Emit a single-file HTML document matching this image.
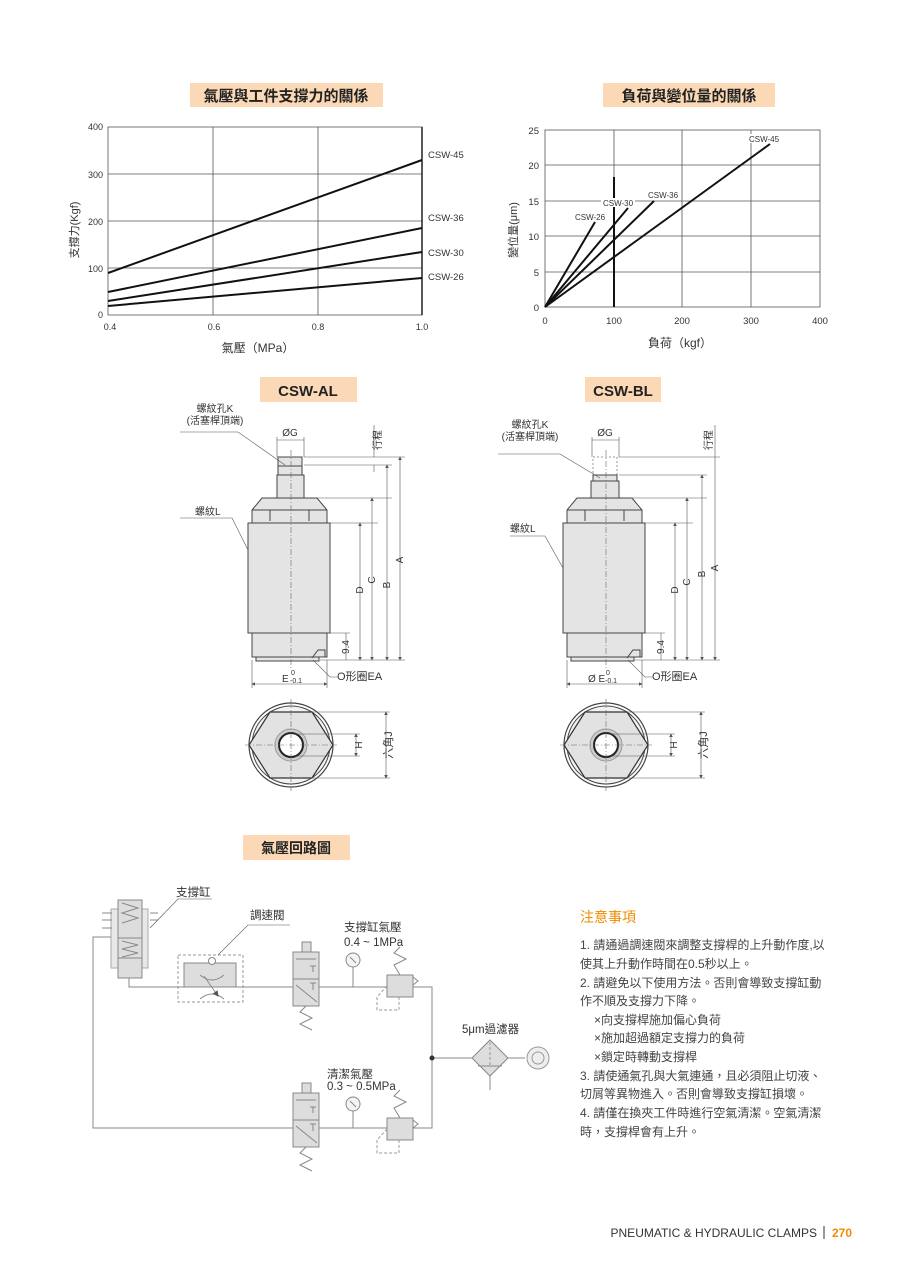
<!DOCTYPE html>
<html><head><meta charset="utf-8"><style>
html,body{margin:0;padding:0;background:#fff}
svg{display:block}
text{font-family:"Liberation Sans","Noto Sans CJK TC",sans-serif;fill:#333}
.t{font-size:10px}
.g{stroke:#444;stroke-width:1;fill:none}
.gr{stroke:#555;stroke-width:0.8;fill:none}
.th{stroke:#111;stroke-width:2;fill:none}
.pt{fill:#e4e4e4;stroke:#444;stroke-width:1}
.dim{stroke:#555;stroke-width:0.6;fill:none}
.cl{stroke:#666;stroke-width:0.6;stroke-dasharray:6 2 1 2;fill:none}
.c{stroke:#888;stroke-width:1;fill:none}
.cf{fill:#ddd;stroke:#888;stroke-width:1}
.dsh{stroke:#999;stroke-width:1;stroke-dasharray:3 2;fill:none}
</style></head><body>
<svg width="900" height="1273" viewBox="0 0 900 1273" xmlns="http://www.w3.org/2000/svg">
<defs>
<marker id="ar" markerWidth="6" markerHeight="6" refX="5" refY="3" orient="auto"><path d="M0,0 L6,3 L0,6z" fill="#555"/></marker>
<marker id="al" markerWidth="6" markerHeight="6" refX="1" refY="3" orient="auto"><path d="M6,0 L0,3 L6,6z" fill="#555"/></marker>
</defs>

<!-- Chart 1 -->
<rect x="190" y="83" width="193" height="24" fill="#fbd9b7"/>
<text x="286" y="101" text-anchor="middle" style="font-size:15px;font-weight:bold;fill:#222">氣壓與工件支撐力的關係</text>
<g class="gr">
<rect x="108" y="127" width="314" height="188"/>
<line x1="213" y1="127" x2="213" y2="315"/><line x1="318" y1="127" x2="318" y2="315"/>
<line x1="108" y1="174" x2="422" y2="174"/><line x1="108" y1="221" x2="422" y2="221"/><line x1="108" y1="268" x2="422" y2="268"/>
</g>
<line x1="422" y1="127" x2="422" y2="315" stroke="#222" stroke-width="1.5"/>
<g class="th" stroke-width="1.8">
<line x1="108" y1="273" x2="422" y2="160"/>
<line x1="108" y1="292" x2="422" y2="228"/>
<line x1="108" y1="301" x2="422" y2="252"/>
<line x1="108" y1="306" x2="422" y2="278"/>
</g>
<g class="t" text-anchor="end" style="font-size:9px">
<text x="103" y="130">400</text><text x="103" y="178">300</text><text x="103" y="225">200</text><text x="103" y="272">100</text><text x="103" y="318">0</text>
</g>
<g style="font-size:9px" text-anchor="middle">
<text x="110" y="330">0.4</text><text x="214" y="330">0.6</text><text x="318" y="330">0.8</text><text x="422" y="330">1.0</text>
</g>
<g style="font-size:9.5px"><text x="428" y="158">CSW-45</text><text x="428" y="221">CSW-36</text><text x="428" y="256">CSW-30</text><text x="428" y="280">CSW-26</text></g>
<text x="258" y="352" text-anchor="middle" style="font-size:12px">氣壓（MPa）</text>
<text transform="translate(78,230) rotate(-90)" text-anchor="middle" style="font-size:11px">支撐力(Kgf)</text>

<!-- Chart 2 -->
<rect x="603" y="83" width="172" height="24" fill="#fbd9b7"/>
<text x="689" y="101" text-anchor="middle" style="font-size:15px;font-weight:bold;fill:#222">負荷與變位量的關係</text>
<g class="gr">
<rect x="545" y="130" width="275" height="177"/>
<line x1="682" y1="130" x2="682" y2="307"/><line x1="751" y1="130" x2="751" y2="307"/><line x1="614" y1="130" x2="614" y2="307"/>
<line x1="545" y1="165" x2="820" y2="165"/><line x1="545" y1="201" x2="820" y2="201"/><line x1="545" y1="236" x2="820" y2="236"/><line x1="545" y1="272" x2="820" y2="272"/>
</g>
<line x1="614" y1="177" x2="614" y2="307" stroke="#111" stroke-width="2"/>
<g class="th" stroke-width="1.6">
<line x1="545" y1="307" x2="595" y2="222"/>
<line x1="545" y1="307" x2="628" y2="208"/>
<line x1="545" y1="307" x2="654" y2="201"/>
<line x1="545" y1="307" x2="770" y2="144"/>
</g>
<g style="font-size:8px">
<rect x="601" y="198" width="34" height="9" fill="#fff"/>
<rect x="746" y="134" width="33" height="9" fill="#fff"/>
<text x="575" y="220">CSW-26</text><text x="603" y="206">CSW-30</text><text x="648" y="198">CSW-36</text><text x="749" y="142">CSW-45</text></g>
<g style="font-size:9.5px" text-anchor="end">
<text x="539" y="134">25</text><text x="539" y="169">20</text><text x="539" y="205">15</text><text x="539" y="240">10</text><text x="539" y="276">5</text><text x="539" y="311">0</text></g>
<g style="font-size:9.5px" text-anchor="middle">
<text x="545" y="324">0</text><text x="614" y="324">100</text><text x="682" y="324">200</text><text x="751" y="324">300</text><text x="820" y="324">400</text></g>
<text x="680" y="347" text-anchor="middle" style="font-size:12px">負荷（kgf）</text>
<text transform="translate(517,230) rotate(-90)" text-anchor="middle" style="font-size:11px">變位量(μm)</text>

<!-- Section titles -->
<rect x="260" y="377" width="97" height="25" fill="#fbd9b7"/>
<text x="308" y="396" text-anchor="middle" style="font-size:15px;font-weight:bold;fill:#222">CSW-AL</text>
<rect x="585" y="377" width="76" height="25" fill="#fbd9b7"/>
<text x="623" y="396" text-anchor="middle" style="font-size:15px;font-weight:bold;fill:#222">CSW-BL</text>

<!-- Cylinder AL -->
<g id="cylA">
<rect class="pt" x="278" y="457" width="24" height="18"/>
<line class="g" x1="278" y1="466" x2="302" y2="466"/>
<rect class="pt" x="277" y="475" width="27" height="23"/>
<path class="pt" d="M262,498 L317,498 L327,510 L327,523 L252,523 L252,510 Z"/>
<line class="g" x1="252" y1="510" x2="327" y2="510"/>
<line class="g" x1="270" y1="510" x2="270" y2="521"/><line class="g" x1="309" y1="510" x2="309" y2="521"/>
<rect class="pt" x="248" y="523" width="82" height="110"/>
<rect class="pt" x="252" y="633" width="75" height="24"/>
<rect class="pt" x="256" y="657" width="63" height="4"/>
<path class="g" d="M312,658 L318,650 L325,650 L325,657" />
<line class="cl" x1="291" y1="450" x2="291" y2="668"/>
<line class="dim" x1="304" y1="457" x2="405" y2="457"/>
<line class="dim" x1="304" y1="465" x2="392" y2="465"/>
<line class="dim" x1="317" y1="498" x2="392" y2="498"/>
<line class="dim" x1="330" y1="523" x2="378" y2="523"/>
<line class="dim" x1="327" y1="633" x2="350" y2="633"/>
<line class="dim" x1="320" y1="660" x2="405" y2="660"/>
<line class="dim" x1="374" y1="425" x2="374" y2="457"/>
<line class="dim" x1="374" y1="465" x2="374" y2="472"/>
<line class="dim" x1="400" y1="457" x2="400" y2="660" marker-start="url(#al)" marker-end="url(#ar)"/>
<line class="dim" x1="387" y1="465" x2="387" y2="660" marker-start="url(#al)" marker-end="url(#ar)"/>
<line class="dim" x1="372" y1="498" x2="372" y2="660" marker-start="url(#al)" marker-end="url(#ar)"/>
<line class="dim" x1="360" y1="523" x2="360" y2="660" marker-start="url(#al)" marker-end="url(#ar)"/>
<line class="dim" x1="346" y1="633" x2="346" y2="660"/>
<text transform="translate(381,440) rotate(-90)" text-anchor="middle" style="font-size:10px">行程</text>
<text transform="translate(403,560) rotate(-90)" text-anchor="middle" style="font-size:10px">A</text>
<text transform="translate(390,585) rotate(-90)" text-anchor="middle" style="font-size:10px">B</text>
<text transform="translate(375,580) rotate(-90)" text-anchor="middle" style="font-size:10px">C</text>
<text transform="translate(363,590) rotate(-90)" text-anchor="middle" style="font-size:10px">D</text>
<text transform="translate(349,647) rotate(-90)" text-anchor="middle" style="font-size:10px">9.4</text>
<line class="dim" x1="277" y1="437" x2="277" y2="457"/><line class="dim" x1="304" y1="437" x2="304" y2="457"/>
<line class="dim" x1="277" y1="440" x2="304" y2="440"/>
<text x="290" y="436" text-anchor="middle" style="font-size:10px">ØG</text>
<line class="dim" x1="252" y1="660" x2="252" y2="688"/><line class="dim" x1="327" y1="660" x2="327" y2="688"/>
<line class="dim" x1="252" y1="684" x2="327" y2="684" marker-start="url(#al)" marker-end="url(#ar)"/>
<text x="282" y="682" style="font-size:10px">E</text><text x="291" y="675" style="font-size:7px">0</text><text x="290" y="683" style="font-size:7px">-0.1</text>
<polyline class="dim" points="313,660 330,677 337,677"/>
<text x="337" y="680" style="font-size:11px">O形圈EA</text>
</g>
<text x="215" y="412" text-anchor="middle" style="font-size:10px">螺紋孔K</text>
<text x="215" y="424" text-anchor="middle" style="font-size:10px">(活塞桿頂端)</text>
<polyline class="dim" points="180,432 238,432 285,465"/>
<text x="195" y="515" style="font-size:10px">螺紋L</text>
<polyline class="dim" points="180,518 232,518 248,550"/>

<!-- Cylinder BL -->
<g transform="translate(315,0)">
<rect x="278" y="457" width="24" height="18" fill="none" stroke="#999" stroke-dasharray="2 2"/>
<rect class="pt" x="278" y="475" width="24" height="15"/>
<rect class="pt" x="276" y="481" width="28" height="17"/>
<path class="pt" d="M262,498 L317,498 L327,510 L327,523 L252,523 L252,510 Z"/>
<line class="g" x1="252" y1="510" x2="327" y2="510"/>
<line class="g" x1="270" y1="510" x2="270" y2="521"/><line class="g" x1="309" y1="510" x2="309" y2="521"/>
<rect class="pt" x="248" y="523" width="82" height="110"/>
<rect class="pt" x="252" y="633" width="75" height="24"/>
<rect class="pt" x="256" y="657" width="63" height="4"/>
<path class="g" d="M312,658 L318,650 L325,650 L325,657" />
<line class="cl" x1="291" y1="450" x2="291" y2="668"/>
<line class="dim" x1="304" y1="457" x2="405" y2="457"/>
<line class="dim" x1="304" y1="475" x2="392" y2="475"/>
<line class="dim" x1="317" y1="498" x2="392" y2="498"/>
<line class="dim" x1="330" y1="523" x2="378" y2="523"/>
<line class="dim" x1="327" y1="633" x2="350" y2="633"/>
<line class="dim" x1="320" y1="660" x2="405" y2="660"/>
<line class="dim" x1="400" y1="425" x2="400" y2="457"/>
<line class="dim" x1="400" y1="457" x2="400" y2="660" marker-end="url(#ar)"/>
<line class="dim" x1="387" y1="475" x2="387" y2="660" marker-start="url(#al)" marker-end="url(#ar)"/>
<line class="dim" x1="372" y1="498" x2="372" y2="660" marker-start="url(#al)" marker-end="url(#ar)"/>
<line class="dim" x1="360" y1="523" x2="360" y2="660" marker-start="url(#al)" marker-end="url(#ar)"/>
<line class="dim" x1="346" y1="633" x2="346" y2="660"/>
<text transform="translate(397,440) rotate(-90)" text-anchor="middle" style="font-size:10px">行程</text>
<text transform="translate(403,568) rotate(-90)" text-anchor="middle" style="font-size:10px">A</text>
<text transform="translate(390,574) rotate(-90)" text-anchor="middle" style="font-size:10px">B</text>
<text transform="translate(375,582) rotate(-90)" text-anchor="middle" style="font-size:10px">C</text>
<text transform="translate(363,590) rotate(-90)" text-anchor="middle" style="font-size:10px">D</text>
<text transform="translate(349,647) rotate(-90)" text-anchor="middle" style="font-size:10px">9.4</text>
<line class="dim" x1="277" y1="437" x2="277" y2="457"/><line class="dim" x1="304" y1="437" x2="304" y2="457"/>
<line class="dim" x1="277" y1="440" x2="304" y2="440"/>
<text x="290" y="436" text-anchor="middle" style="font-size:10px">ØG</text>
<line class="dim" x1="252" y1="660" x2="252" y2="688"/><line class="dim" x1="327" y1="660" x2="327" y2="688"/>
<line class="dim" x1="252" y1="684" x2="327" y2="684" marker-start="url(#al)" marker-end="url(#ar)"/>
<text x="273" y="682" style="font-size:10px">Ø E</text><text x="291" y="675" style="font-size:7px">0</text><text x="290" y="683" style="font-size:7px">-0.1</text>
<polyline class="dim" points="313,660 330,677 337,677"/>
<text x="337" y="680" style="font-size:11px">O形圈EA</text>
</g>
<text x="530" y="428" text-anchor="middle" style="font-size:10px">螺紋孔K</text>
<text x="530" y="440" text-anchor="middle" style="font-size:10px">(活塞桿頂端)</text>
<polyline class="dim" points="498,454 560,454 600,478"/>
<text x="510" y="532" style="font-size:10px">螺紋L</text>
<polyline class="dim" points="510,536 545,536 563,568"/>

<!-- bottom views -->
<g>
<circle cx="291" cy="745" r="42" fill="#fff" stroke="#444" stroke-width="1.2"/>
<circle cx="291" cy="745" r="39" fill="#f2f2f2" stroke="#444" stroke-width="1"/>
<polygon points="270,712 312,712 333,745 312,778 270,778 249,745" fill="#e2e2e2" stroke="#333" stroke-width="1.2"/>
<circle cx="291" cy="745" r="16" fill="#ccc" stroke="#999"/>
<circle cx="291" cy="745" r="12" fill="#fff" stroke="#222" stroke-width="2"/>
<line class="cl" x1="245" y1="745" x2="337" y2="745"/><line class="cl" x1="291" y1="699" x2="291" y2="791"/>
<line class="dim" x1="295" y1="734" x2="360" y2="734"/><line class="dim" x1="295" y1="756" x2="360" y2="756"/>
<line class="dim" x1="356" y1="734" x2="356" y2="756" marker-start="url(#al)" marker-end="url(#ar)"/>
<line class="dim" x1="312" y1="712" x2="390" y2="712"/><line class="dim" x1="312" y1="778" x2="390" y2="778"/>
<line class="dim" x1="386" y1="712" x2="386" y2="778" marker-start="url(#al)" marker-end="url(#ar)"/>
<text transform="translate(362,745) rotate(-90)" text-anchor="middle" style="font-size:10px">H</text>
<text transform="translate(392,745) rotate(-90)" text-anchor="middle" style="font-size:11px">六角J</text>
</g>
<g transform="translate(315,0)">
<circle cx="291" cy="745" r="42" fill="#fff" stroke="#444" stroke-width="1.2"/>
<circle cx="291" cy="745" r="39" fill="#f2f2f2" stroke="#444" stroke-width="1"/>
<polygon points="270,712 312,712 333,745 312,778 270,778 249,745" fill="#e2e2e2" stroke="#333" stroke-width="1.2"/>
<circle cx="291" cy="745" r="16" fill="#ccc" stroke="#999"/>
<circle cx="291" cy="745" r="12" fill="#fff" stroke="#222" stroke-width="2"/>
<line class="cl" x1="245" y1="745" x2="337" y2="745"/><line class="cl" x1="291" y1="699" x2="291" y2="791"/>
<line class="dim" x1="295" y1="734" x2="360" y2="734"/><line class="dim" x1="295" y1="756" x2="360" y2="756"/>
<line class="dim" x1="356" y1="734" x2="356" y2="756" marker-start="url(#al)" marker-end="url(#ar)"/>
<line class="dim" x1="312" y1="712" x2="390" y2="712"/><line class="dim" x1="312" y1="778" x2="390" y2="778"/>
<line class="dim" x1="386" y1="712" x2="386" y2="778" marker-start="url(#al)" marker-end="url(#ar)"/>
<text transform="translate(362,745) rotate(-90)" text-anchor="middle" style="font-size:10px">H</text>
<text transform="translate(392,745) rotate(-90)" text-anchor="middle" style="font-size:11px">六角J</text>
</g>

<!-- Circuit -->
<rect x="243" y="835" width="107" height="25" fill="#fbd9b7"/>
<text x="296" y="853" text-anchor="middle" style="font-size:14px;font-weight:bold;fill:#222">氣壓回路圖</text>
<polyline class="c" points="129,978 129,987 432,987 432,1128 93,1128 93,937 118,937"/>
<line class="c" x1="432" y1="1058" x2="473" y2="1058"/>
<line class="c" x1="507" y1="1058" x2="525" y2="1058"/>
<circle cx="432" cy="1058" r="2.5" fill="#333"/>
<rect x="111" y="909" width="37" height="59" fill="#e8e8e8" stroke="#aaa"/>
<rect class="cf" x="118" y="900" width="24" height="48"/>
<rect class="cf" x="118" y="938" width="24" height="20"/>
<rect class="cf" x="118" y="958" width="24" height="20"/>
<polyline class="c" points="122,903 138,908 122,913 138,918 122,923"/>
<polyline class="c" points="122,941 138,945 122,949 138,953 122,957"/>
<g class="c"><line x1="102" y1="913" x2="112" y2="913"/><line x1="102" y1="920" x2="112" y2="920"/><line x1="102" y1="928" x2="112" y2="928"/>
<line x1="150" y1="913" x2="158" y2="913"/><line x1="150" y1="920" x2="158" y2="920"/></g>
<polyline class="dim" points="212,899 178,899 150,928"/>
<text x="176" y="896" style="font-size:11.5px">支撐缸</text>
<rect class="dsh" x="178" y="955" width="65" height="47"/>
<rect class="cf" x="184" y="963" width="52" height="24"/>
<circle cx="212" cy="961" r="3.5" fill="#fff" stroke="#888"/>
<path class="c" d="M200,975 Q212,985 224,975 M200,999 Q212,989 224,999"/>
<line class="c" x1="204" y1="976" x2="218" y2="996" marker-end="url(#ar)"/>
<polyline class="dim" points="290,925 248,925 218,955"/>
<text x="250" y="919" style="font-size:11.5px">調速閥</text>
<g>
<rect class="cf" x="302" y="942" width="9" height="10"/>
<rect class="cf" x="293" y="952" width="26" height="27"/>
<rect class="cf" x="293" y="979" width="26" height="27"/>
<line class="c" x1="296" y1="959" x2="316" y2="959"/>
<line class="c" x1="310" y1="966" x2="316" y2="966"/><line class="c" x1="313" y1="966" x2="313" y2="972"/>
<line class="c" x1="310" y1="983" x2="316" y2="983"/><line class="c" x1="313" y1="983" x2="313" y2="990"/>
<line class="c" x1="296" y1="985" x2="317" y2="1002"/>
<polyline class="c" points="306,1006 300,1012 312,1018 300,1024 312,1030"/>
</g>
<circle cx="353" cy="960" r="7" fill="#f4f4f4" stroke="#888"/>
<line class="c" x1="350" y1="957" x2="356" y2="963"/>
<line class="c" x1="353" y1="967" x2="353" y2="987"/>
<g>
<polyline class="c" points="400,947 394,953 406,959 394,965 400,975"/>
<rect class="cf" x="387" y="975" width="26" height="22"/>
<polyline class="c" points="413,977 418,981 413,985"/>
<polyline class="dsh" points="387,986 377,997 377,1010 399,1010 399,997"/>
</g>
<text x="344" y="931" style="font-size:11.5px">支撐缸氣壓</text>
<text x="344" y="946" style="font-size:11.5px">0.4 ~ 1MPa</text>
<g transform="translate(0,141)">
<rect class="cf" x="302" y="942" width="9" height="10"/>
<rect class="cf" x="293" y="952" width="26" height="27"/>
<rect class="cf" x="293" y="979" width="26" height="27"/>
<line class="c" x1="296" y1="959" x2="316" y2="959"/>
<line class="c" x1="310" y1="966" x2="316" y2="966"/><line class="c" x1="313" y1="966" x2="313" y2="972"/>
<line class="c" x1="310" y1="983" x2="316" y2="983"/><line class="c" x1="313" y1="983" x2="313" y2="990"/>
<line class="c" x1="296" y1="985" x2="317" y2="1002"/>
<polyline class="c" points="306,1006 300,1012 312,1018 300,1024 312,1030"/>
</g>
<circle cx="353" cy="1104" r="7" fill="#f4f4f4" stroke="#888"/>
<line class="c" x1="350" y1="1101" x2="356" y2="1107"/>
<line class="c" x1="353" y1="1111" x2="353" y2="1128"/>
<g transform="translate(0,143)">
<polyline class="c" points="400,947 394,953 406,959 394,965 400,975"/>
<rect class="cf" x="387" y="975" width="26" height="22"/>
<polyline class="c" points="413,977 418,981 413,985"/>
<polyline class="dsh" points="387,986 377,997 377,1010 399,1010 399,997"/>
</g>
<text x="327" y="1078" style="font-size:11.5px">清潔氣壓</text>
<text x="327" y="1090" style="font-size:11.5px">0.3 ~ 0.5MPa</text>
<polygon points="490,1040 508,1058 490,1076 472,1058" class="cf"/>
<line class="dsh" x1="490" y1="1042" x2="490" y2="1066"/>
<line class="c" x1="478" y1="1066" x2="502" y2="1066"/>
<line class="c" x1="490" y1="1076" x2="490" y2="1090"/>
<circle cx="538" cy="1058" r="11" fill="#eee" stroke="#999"/>
<circle cx="538" cy="1058" r="6" fill="none" stroke="#999"/>
<text x="462" y="1033" style="font-size:11.5px">5μm過濾器</text>

<!-- Notes -->
<text x="580" y="922" style="font-size:14px;fill:#f08c00">注意事項</text>
<g style="font-size:12px">
<text x="580" y="949" style="fill:#444">1. 請通過調速閥來調整支撐桿的上升動作度,以</text>
<text x="580" y="968" style="fill:#444">使其上升動作時間在0.5秒以上。</text>
<text x="580" y="987" style="fill:#444">2. 請避免以下使用方法。否則會導致支撐缸動</text>
<text x="580" y="1005" style="fill:#444">作不順及支撐力下降。</text>
<text x="594" y="1024" style="fill:#444">×向支撐桿施加偏心負荷</text>
<text x="594" y="1042" style="fill:#444">×施加超過額定支撐力的負荷</text>
<text x="594" y="1061" style="fill:#444">×鎖定時轉動支撐桿</text>
<text x="580" y="1080" style="fill:#444">3. 請使通氣孔與大氣連通，且必須阻止切液、</text>
<text x="580" y="1098" style="fill:#444">切屑等異物進入。否則會導致支撐缸損壞。</text>
<text x="580" y="1117" style="fill:#444">4. 請僅在換夾工件時進行空氣清潔。空氣清潔</text>
<text x="580" y="1136" style="fill:#444">時，支撐桿會有上升。</text>
</g>

<!-- footer -->
<text x="817" y="1237" text-anchor="end" style="font-size:12px;fill:#333">PNEUMATIC &amp; HYDRAULIC CLAMPS</text>
<line x1="824" y1="1226" x2="824" y2="1239" stroke="#333" stroke-width="1"/>
<text x="832" y="1237" style="font-size:12px;font-weight:bold;fill:#f08c00">270</text>
</svg>
</body></html>
